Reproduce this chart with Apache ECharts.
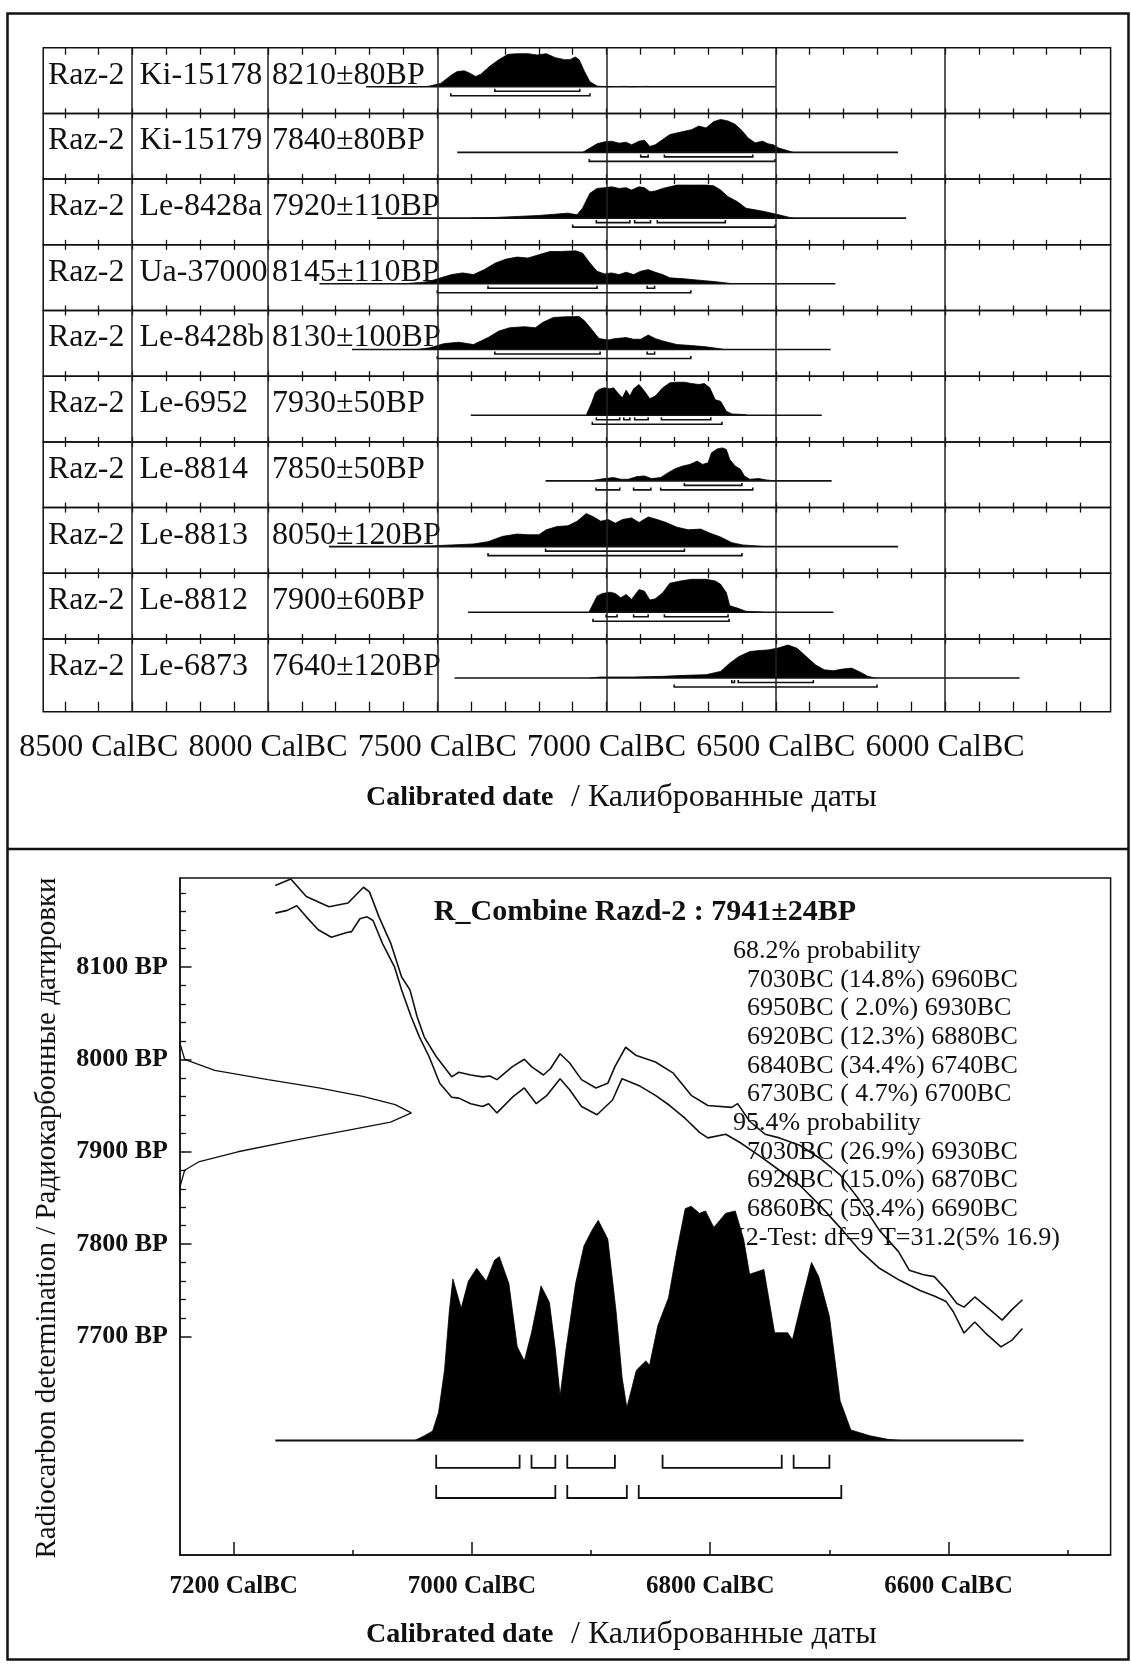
<!DOCTYPE html>
<html><head><meta charset="utf-8">
<script src="https://cdn.jsdelivr.net/npm/echarts@6/dist/echarts.min.js"></script>
<style>html,body{margin:0;padding:0;background:#fff}#c{width:1131px;height:1664px}</style>
</head><body><div id="c"></div>
<script>
// ---------------- DATA (years are cal BC, densities relative to peak = 1) ----------------
const sites = ['Raz-2','Raz-2','Raz-2','Raz-2','Raz-2','Raz-2','Raz-2','Raz-2','Raz-2','Raz-2'];
const labCodes = ['Ki-15178','Ki-15179','Le-8428a','Ua-37000','Le-8428b','Le-6952','Le-8814','Le-8813','Le-8812','Le-6873'];
const bpDates = ['8210±80BP','7840±80BP','7920±110BP','8145±110BP','8130±100BP','7930±50BP','7850±50BP','8050±120BP','7900±60BP','7640±120BP'];

const topTickYears = [8600,8500,8400,8300,8200,8100,8000,7900,7800,7700,7600,7500,7400,7300,7200,7100,7000,6900,6800,6700,6600,6500,6400,6300,6200,6100,6000,5900,5800,5700,5600];
const topLabelYears = [8500,8000,7500,7000,6500,6000];
const topGridYears = [8402,8000,7500,7000,6500,6000];

const distKi15178 = [[7540,0],[7522,0.02],[7490,0.1],[7457,0.36],[7441,0.46],[7420,0.48],[7404,0.41],[7387,0.31],[7371,0.38],[7345,0.62],[7318,0.82],[7291,0.98],[7264,1.0],[7232,1.0],[7205,0.96],[7178,1.0],[7151,0.88],[7124,0.82],[7108,0.82],[7092,0.9],[7081,0.82],[7065,0.46],[7049,0.15],[7028,0.02],[7006,0],[6940,0.01],[6930,0],[6880,0.01],[6870,0]];
const distKi15179 = [[7071,0],[7049,0.13],[7028,0.26],[7006,0.32],[6985,0.34],[6963,0.28],[6942,0.31],[6926,0.23],[6904,0.34],[6888,0.37],[6872,0.18],[6856,0.23],[6834,0.39],[6813,0.54],[6792,0.59],[6770,0.64],[6749,0.69],[6727,0.8],[6706,0.74],[6684,0.93],[6663,1.0],[6641,0.95],[6620,0.85],[6598,0.64],[6582,0.44],[6561,0.29],[6539,0.34],[6523,0.26],[6507,0.23],[6491,0.13],[6464,0.05],[6448,0]];
const distLe8428a = [[7400,0],[7328,0.02],[7200,0.08],[7114,0.15],[7087,0.1],[7071,0.3],[7049,0.75],[7028,0.9],[7006,0.92],[6985,0.95],[6963,0.9],[6942,0.92],[6926,0.85],[6904,0.95],[6888,0.92],[6872,0.8],[6856,0.82],[6834,0.9],[6813,0.95],[6792,1.0],[6749,1.0],[6706,1.0],[6684,0.98],[6663,0.85],[6641,0.65],[6614,0.5],[6588,0.3],[6561,0.25],[6534,0.2],[6512,0.15],[6491,0.1],[6459,0.02],[6448,0]];
const distUa37000 = [[7600,0],[7540,0.05],[7522,0.08],[7490,0.18],[7457,0.28],[7425,0.33],[7393,0.28],[7361,0.43],[7328,0.63],[7296,0.75],[7264,0.81],[7232,0.78],[7200,0.88],[7167,0.98],[7135,0.98],[7092,1.0],[7071,0.93],[7049,0.63],[7028,0.38],[7006,0.3],[6985,0.33],[6963,0.28],[6942,0.35],[6920,0.28],[6899,0.38],[6877,0.43],[6856,0.35],[6834,0.28],[6813,0.18],[6770,0.15],[6727,0.11],[6684,0.07],[6641,0.02],[6630,0]];
const distLe8428b = [[7560,0],[7522,0.05],[7479,0.18],[7436,0.22],[7393,0.15],[7350,0.36],[7318,0.56],[7286,0.66],[7243,0.69],[7210,0.66],[7189,0.82],[7157,0.97],[7124,0.99],[7081,1.0],[7065,0.87],[7044,0.61],[7022,0.33],[6995,0.29],[6974,0.33],[6942,0.36],[6920,0.31],[6899,0.31],[6877,0.44],[6856,0.33],[6834,0.26],[6792,0.15],[6749,0.12],[6706,0.08],[6663,0.02],[6652,0]];
const distLe6952 = [[7060,0],[7044,0.37],[7033,0.68],[7022,0.78],[7006,0.83],[6990,0.8],[6979,0.83],[6963,0.63],[6953,0.53],[6942,0.76],[6931,0.58],[6920,0.8],[6904,0.93],[6888,0.73],[6872,0.5],[6856,0.58],[6834,0.83],[6813,0.98],[6792,1.0],[6770,1.0],[6749,0.96],[6727,0.93],[6711,0.96],[6695,0.83],[6679,0.47],[6663,0.42],[6646,0.12],[6630,0.04],[6593,0.02],[6585,0]];
const distLe8814 = [[7045,0],[7033,0.03],[7006,0.07],[6979,0.1],[6958,0.05],[6936,0.05],[6910,0.13],[6888,0.15],[6867,0.07],[6840,0.1],[6818,0.25],[6797,0.37],[6775,0.45],[6754,0.5],[6732,0.6],[6716,0.5],[6700,0.55],[6690,0.85],[6673,0.97],[6657,1.0],[6646,0.95],[6636,0.65],[6620,0.45],[6604,0.35],[6593,0.15],[6577,0.05],[6550,0.07],[6528,0.03],[6502,0]];
const distLe8813 = [[7600,0],[7522,0.02],[7457,0.05],[7393,0.08],[7350,0.15],[7307,0.31],[7264,0.38],[7232,0.36],[7200,0.36],[7178,0.51],[7146,0.61],[7114,0.63],[7087,0.77],[7060,1.0],[7038,0.9],[7017,0.77],[6995,0.82],[6974,0.71],[6953,0.82],[6926,0.87],[6904,0.73],[6877,0.9],[6850,0.82],[6824,0.73],[6792,0.59],[6759,0.51],[6722,0.53],[6695,0.41],[6663,0.29],[6630,0.12],[6598,0.05],[6555,0.02],[6534,0]];
const distLe8812 = [[7052,0],[7038,0.29],[7028,0.49],[7012,0.57],[6990,0.61],[6974,0.57],[6958,0.44],[6942,0.54],[6926,0.39],[6904,0.69],[6888,0.64],[6872,0.37],[6856,0.41],[6834,0.59],[6813,0.88],[6781,0.95],[6749,1.0],[6706,1.0],[6679,0.95],[6663,0.85],[6646,0.59],[6636,0.2],[6614,0.13],[6588,0.03],[6545,0.01],[6534,0]];
const distLe6873 = [[7050,0],[7017,0.03],[6920,0.03],[6834,0.05],[6770,0.08],[6706,0.1],[6663,0.2],[6636,0.45],[6609,0.65],[6577,0.8],[6550,0.83],[6523,0.85],[6496,0.9],[6464,1.0],[6437,0.9],[6410,0.65],[6383,0.4],[6357,0.25],[6330,0.22],[6303,0.27],[6276,0.3],[6249,0.17],[6228,0.05],[6206,0]];

const rowBaselines = [[7710,6500],[7441,6139],[7678,6115],[7848,6324],[7752,6338],[7401,6364],[7180,6335],[7820,6139],[7409,6330],[7449,5780]];
const rowRanges68 = [
  [[7330,7079]],
  [[6899,6877],[6829,6568]],
  [[7030,6931],[6917,6870],[6850,6649]],
  [[7350,7028],[6880,6858]],
  [[7330,7019],[6880,6858]],
  [[7030,6961],[6949,6931],[6917,6877],[6838,6692]],
  [[6770,6600]],
  [[7180,6770]],
  [[7001,6969],[6920,6877],[6829,6641]],
  [[6630,6622],[6611,6389]]
];
const rowRanges95 = [
  [[7460,7049]],
  [[7051,6502]],
  [[7100,6502]],
  [[7500,6751]],
  [[7500,6751]],
  [[7042,6659]],
  [[7031,6961],[6920,6869],[6840,6568]],
  [[7350,6600]],
  [[7040,6638]],
  [[6800,6201]]
];

// bottom panel
const bottomMajorYears = [7200,7000,6800,6600];
const bottomMinorYears = [7100,6900,6700,6500];
const bpMajor = [7700,7800,7900,8000,8100];
const bpMinor = [7720,7740,7760,7780,7820,7840,7860,7880,7920,7940,7960,7980,8020,8040,8060,8080,8120,8140,8160,8180];

const calCurveUpper = [[7165,8188],[7152,8195],[7139,8176],[7120,8165],[7104,8169],[7091,8186],[7086,8181],[7078,8154],[7068,8125],[7059,8089],[7052,8075],[7046,8046],[7040,8024],[7030,8003],[7017,7981],[7011,7986],[7001,7983],[6991,7981],[6985,7982],[6979,7978],[6966,7992],[6956,8000],[6950,7992],[6940,7983],[6934,7990],[6926,8006],[6918,7996],[6908,7978],[6896,7969],[6886,7974],[6880,7992],[6871,8013],[6862,8004],[6846,7997],[6831,7985],[6816,7961],[6802,7950],[6782,7948],[6777,7952],[6767,7933],[6754,7919],[6742,7915],[6725,7907],[6708,7893],[6691,7875],[6675,7848],[6658,7815],[6642,7792],[6633,7772],[6621,7767],[6612,7765],[6602,7751],[6593,7736],[6587,7732],[6578,7743],[6565,7729],[6555,7718],[6547,7729],[6538,7740]];
const calCurveLower = [[7165,8158],[7155,8161],[7147,8166],[7139,8154],[7129,8140],[7118,8132],[7105,8137],[7101,8138],[7094,8152],[7088,8154],[7083,8150],[7075,8125],[7065,8100],[7059,8075],[7051,8046],[7044,8024],[7036,8003],[7027,7974],[7017,7959],[7011,7958],[7001,7952],[6991,7949],[6986,7952],[6979,7942],[6966,7959],[6956,7969],[6946,7952],[6937,7961],[6926,7979],[6918,7967],[6908,7949],[6895,7940],[6882,7956],[6874,7979],[6859,7971],[6846,7961],[6834,7950],[6821,7936],[6809,7921],[6802,7915],[6787,7919],[6775,7910],[6758,7895],[6742,7880],[6725,7864],[6708,7842],[6691,7818],[6675,7794],[6658,7774],[6641,7761],[6624,7750],[6612,7744],[6602,7738],[6596,7727],[6587,7704],[6578,7716],[6569,7704],[6556,7689],[6547,7696],[6538,7709]];
const measuredBP = [[8030,0],[8017,0],[8000,0.02],[7988,0.15],[7978,0.38],[7969,0.6],[7960,0.79],[7951,0.93],[7942,1.0],[7932,0.91],[7924,0.74],[7913,0.51],[7900,0.25],[7889,0.08],[7880,0.02],[7862,0],[7850,0]];
const combinedDist = [[7048,0],[7040,0.02],[7033,0.04],[7028,0.12],[7023,0.3],[7019,0.55],[7016,0.69],[7009,0.565],[7003,0.68],[6996,0.735],[6988,0.68],[6981,0.77],[6977,0.785],[6969,0.67],[6962,0.4],[6956,0.34],[6950,0.46],[6942,0.66],[6935,0.59],[6930,0.39],[6926,0.19],[6921,0.39],[6913,0.67],[6906,0.83],[6899,0.9],[6894,0.94],[6886,0.86],[6879,0.55],[6874,0.27],[6870,0.14],[6862,0.3],[6854,0.34],[6851,0.32],[6844,0.49],[6835,0.61],[6828,0.81],[6821,0.99],[6816,1.0],[6809,0.97],[6804,0.98],[6797,0.91],[6787,0.97],[6779,0.98],[6772,0.86],[6767,0.71],[6755,0.73],[6746,0.46],[6735,0.46],[6731,0.43],[6722,0.62],[6715,0.76],[6709,0.7],[6700,0.53],[6691,0.17],[6682,0.045],[6666,0.02],[6651,0.005],[6640,0]];
const combinedBaseline = [7165,6537];
const comb68 = [[7030,6960],[6950,6930],[6920,6880],[6840,6740],[6730,6700]];
const comb95 = [[7030,6930],[6920,6870],[6860,6690]];

const combineTitle = 'R_Combine Razd-2 : 7941±24BP';
const head68 = '68.2% probability';
const prob68Lines = ['7030BC (14.8%) 6960BC','6950BC ( 2.0%) 6930BC','6920BC (12.3%) 6880BC','6840BC (34.4%) 6740BC','6730BC ( 4.7%) 6700BC'];
const head95 = '95.4% probability';
const prob95Lines = ['7030BC (26.9%) 6930BC','6920BC (15.0%) 6870BC','6860BC (53.4%) 6690BC'];
const chiLine = 'X2-Test: df=9 T=31.2(5% 16.9)';

// ---------------- LAYOUT / STYLE ----------------
const SERIF = "'Liberation Serif','Times New Roman',serif";
const INK = '#111';
const rowDists = [distKi15178,distKi15179,distLe8428a,distUa37000,distLe8428b,distLe6952,distLe8814,distLe8813,distLe8812,distLe6873];
const rowTop0 = 47.7, rowH = 65.7, lastRowH = 72.7, baseOff = 39, peakH = 33;
const L = 43.2, R = 1131 - 1110.6;
const xMinTop = -8664, xMaxTop = -5511;
const neg = a => a.map(v => -v);

function bracketSeries(xIdx, yIdx, r68, r95, off68, off95, cap, lw) {
  const data = r68.map(r => [-r[0], -r[1], 0]).concat(r95.map(r => [-r[0], -r[1], 1]));
  return {
    type: 'custom', xAxisIndex: xIdx, yAxisIndex: yIdx, data, silent: true, z: 4,
    encode: { x: [0, 1], y: 2 },
    renderItem: (params, api) => {
      const p1 = api.coord([api.value(0), 0]);
      const p2 = api.coord([api.value(1), 0]);
      const y = p1[1] + (api.value(2) === 0 ? off68 : off95);
      return { type: 'polyline', shape: { points: [[p1[0], y - cap], [p1[0], y], [p2[0], y], [p2[0], y - cap]] },
        style: { stroke: INK, lineWidth: lw, fill: 'none' } };
    }
  };
}

const grids = [], xAxes = [], yAxes = [], series = [], graphics = [];

for (let i = 0; i < 10; i++) {
  const top = rowTop0 + i * rowH, h = i === 9 ? lastRowH : rowH;
  grids.push({ left: L, right: R, top, height: h, show: true, borderColor: INK, borderWidth: 1.5, backgroundColor: 'rgba(0,0,0,0)' });
  xAxes.push({ gridIndex: i, type: 'value', position: 'top', min: xMinTop, max: xMaxTop,
    axisLine: { show: false, onZero: false },
    axisTick: { show: true, inside: true, length: i === 0 ? 7 : 5, customValues: neg(topTickYears), lineStyle: { color: INK, width: 1.3 } },
    axisLabel: { show: false }, splitLine: { show: false } });
  xAxes.push({ gridIndex: i, type: 'value', position: 'bottom', min: xMinTop, max: xMaxTop,
    axisLine: { show: false, onZero: false },
    axisTick: { show: true, inside: true, length: i === 9 ? 10 : 5, customValues: neg(topTickYears), lineStyle: { color: INK, width: 1.3 } },
    axisLabel: i === 9 ? { show: true, customValues: neg(topLabelYears), formatter: v => `${-v} CalBC`, fontFamily: SERIF, fontSize: 32, color: INK, margin: 20 } : { show: false },
    splitLine: { show: false } });
  yAxes.push({ gridIndex: i, type: 'value', min: -(h - baseOff) / peakH, max: baseOff / peakH, show: false });
  series.push({ type: 'line', xAxisIndex: 2 * i + 1, yAxisIndex: i, data: rowDists[i].map(p => [-p[0], p[1]]),
    symbol: 'none', lineStyle: { color: '#000', width: 0.8 }, areaStyle: { color: '#000', opacity: 1 }, silent: true, z: 3 });
  series.push({ type: 'line', xAxisIndex: 2 * i + 1, yAxisIndex: i,
    data: [[-rowBaselines[i][0], 0], [-rowBaselines[i][1], 0]], symbol: 'none',
    lineStyle: { color: INK, width: 1.6 }, silent: true, z: 4,
    markLine: { silent: true, symbol: ['none', 'none'], label: { show: false }, animation: false,
      lineStyle: { color: '#222', width: 1.5, type: 'solid' }, data: topGridYears.map(v => ({ xAxis: -v })) } });
  series.push(bracketSeries(2 * i + 1, i, rowRanges68[i], rowRanges95[i], 4.5, 9, 2.5, 1.6));

  const ty = top + 27.5;
  graphics.push({ type: 'text', x: 48, y: ty, z: 1, style: { text: sites[i], fill: INK, fontFamily: SERIF, fontSize: 32, textAlign: 'left', textVerticalAlign: 'middle' } });
  graphics.push({ type: 'text', x: 139.5, y: ty, z: 1, style: { text: labCodes[i], fill: INK, fontFamily: SERIF, fontSize: 32, textAlign: 'left', textVerticalAlign: 'middle' } });
  graphics.push({ type: 'text', x: 272, y: ty, z: 1, style: { text: bpDates[i], fill: INK, fontFamily: SERIF, fontSize: 32, textAlign: 'left', textVerticalAlign: 'middle' } });
}

// bottom panel grid (index 10)
const xbMin = -7245, xbMax = -6464;
grids.push({ left: 180, right: R, top: 878, height: 677, show: true, borderColor: INK, borderWidth: 1.5, backgroundColor: 'rgba(0,0,0,0)' });
xAxes.push({ gridIndex: 10, type: 'value', position: 'bottom', min: xbMin, max: xbMax,
  axisLine: { show: true, onZero: false, lineStyle: { color: INK, width: 1.5 } },
  axisTick: { show: true, inside: true, length: 13, customValues: neg(bottomMajorYears), lineStyle: { color: INK, width: 1.5 } },
  axisLabel: { show: true, customValues: neg(bottomMajorYears), formatter: v => `${-v} CalBC`, fontFamily: SERIF, fontWeight: 'bold', fontSize: 25, color: INK, margin: 19 },
  splitLine: { show: false } });
xAxes.push({ gridIndex: 10, type: 'value', position: 'bottom', min: xbMin, max: xbMax,
  axisLine: { show: false, onZero: false },
  axisTick: { show: true, inside: true, length: 5, customValues: neg(bottomMinorYears), lineStyle: { color: INK, width: 1.5 } },
  axisLabel: { show: false }, splitLine: { show: false } });
xAxes.push({ gridIndex: 10, type: 'value', position: 'top', min: 0, max: 930.6 / 231.4, show: false, axisLine: { onZero: false } });
yAxes.push({ gridIndex: 10, type: 'value', position: 'left', min: 7464, max: 8196,
  axisLine: { show: true, onZero: false, lineStyle: { color: INK, width: 1.5 } },
  axisTick: { show: true, inside: true, length: 11.5, customValues: bpMajor, lineStyle: { color: INK, width: 1.5 } },
  axisLabel: { show: true, customValues: bpMajor, formatter: v => `${v} BP`, fontFamily: SERIF, fontWeight: 'bold', fontSize: 26, color: INK, margin: 12 },
  splitLine: { show: false } });
yAxes.push({ gridIndex: 10, type: 'value', position: 'left', min: 7464, max: 8196,
  axisLine: { show: false, onZero: false },
  axisTick: { show: true, inside: true, length: 6, customValues: bpMinor, lineStyle: { color: INK, width: 1.3 } },
  axisLabel: { show: false }, splitLine: { show: false } });
yAxes.push({ gridIndex: 10, type: 'value', position: 'right', min: -0.489, max: 2.402, show: false, axisLine: { onZero: false } });

series.push({ type: 'line', xAxisIndex: 20, yAxisIndex: 12, data: combinedDist.map(p => [-p[0], p[1]]), symbol: 'none',
  lineStyle: { color: '#000', width: 0.8 }, areaStyle: { color: '#000', opacity: 1 }, silent: true, z: 3 });
series.push({ type: 'line', xAxisIndex: 20, yAxisIndex: 12, data: [[-combinedBaseline[0], 0], [-combinedBaseline[1], 0]], symbol: 'none',
  lineStyle: { color: INK, width: 2 }, silent: true, z: 4 });
series.push(bracketSeries(20, 12, comb68, comb95, 27.3, 57.5, 13, 1.8));
series.push({ type: 'line', xAxisIndex: 20, yAxisIndex: 10, data: calCurveUpper.map(p => [-p[0], p[1]]), symbol: 'none',
  lineStyle: { color: INK, width: 1.6 }, silent: true, z: 5 });
series.push({ type: 'line', xAxisIndex: 20, yAxisIndex: 10, data: calCurveLower.map(p => [-p[0], p[1]]), symbol: 'none',
  lineStyle: { color: INK, width: 1.6 }, silent: true, z: 5 });
series.push({ type: 'line', xAxisIndex: 22, yAxisIndex: 10, data: measuredBP.map(p => [p[1], p[0]]), symbol: 'none',
  lineStyle: { color: INK, width: 1.3 }, silent: true, z: 5 });

// frame and texts
graphics.push({ type: 'rect', z: 10, shape: { x: 7.5, y: 13.5, width: 1121, height: 1646 }, style: { fill: 'none', stroke: INK, lineWidth: 2.5 } });
graphics.push({ type: 'line', z: 10, shape: { x1: 7.5, y1: 849, x2: 1128.5, y2: 849 }, style: { stroke: INK, lineWidth: 2.5 } });
[798, 1635].forEach(y => {
  graphics.push({ type: 'text', x: 366, y, z: 1, style: { text: 'Calibrated date', fill: INK, fontFamily: SERIF, fontWeight: 'bold', fontSize: 28, textAlign: 'left', textVerticalAlign: 'middle' } });
  graphics.push({ type: 'text', x: 571, y, z: 1, style: { text: '/ Калиброванные даты', fill: INK, fontFamily: SERIF, fontSize: 32, textAlign: 'left', textVerticalAlign: 'middle' } });
});
graphics.push({ type: 'text', x: 47, y: 1218, rotation: Math.PI / 2, z: 1,
  style: { text: 'Radiocarbon determination / Радиокарбонные датировки', fill: INK, fontFamily: SERIF, fontSize: 29, textAlign: 'center', textVerticalAlign: 'middle' } });
graphics.push({ type: 'text', x: 645, y: 912, z: 1, style: { text: combineTitle, fill: INK, fontFamily: SERIF, fontWeight: 'bold', fontSize: 30, textAlign: 'center', textVerticalAlign: 'middle' } });
const txtLines = [[head68, 733]].concat(prob68Lines.map(t => [t, 747]), [[head95, 733]], prob95Lines.map(t => [t, 747]), [[chiLine, 727]]);
txtLines.forEach((ln, k) => {
  graphics.push({ type: 'text', x: ln[1], y: 951 + k * 28.7, z: 1, style: { text: ln[0], fill: INK, fontFamily: SERIF, fontSize: 26, textAlign: 'left', textVerticalAlign: 'middle' } });
});

const option = {
  backgroundColor: '#fff',
  animation: false,
  grid: grids, xAxis: xAxes, yAxis: yAxes, series,
  graphic: { elements: graphics }
};
const chart = echarts.init(document.getElementById('c'), null, { renderer: 'canvas', width: 1131, height: 1664 });
chart.setOption(option);
</script></body></html>
